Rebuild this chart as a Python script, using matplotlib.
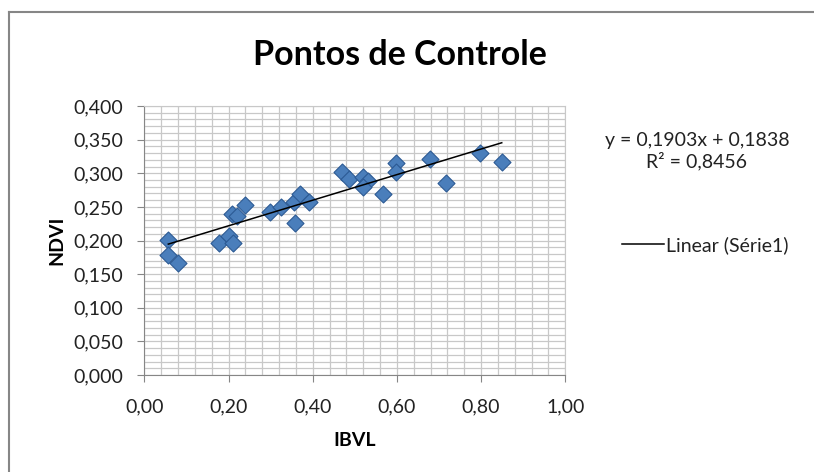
import matplotlib.pyplot as plt
from matplotlib.ticker import MultipleLocator, FuncFormatter
from matplotlib.lines import Line2D
import numpy as np

# Control points
ibvl = [0.057, 0.057, 0.079, 0.178, 0.200, 0.211, 0.208, 0.221, 0.240,
        0.299, 0.324, 0.356, 0.370, 0.390, 0.358, 0.469, 0.485, 0.519,
        0.532, 0.519, 0.568, 0.598, 0.598, 0.679, 0.717, 0.797, 0.849]
ndvi = [0.201, 0.178, 0.166, 0.197, 0.206, 0.197, 0.240, 0.236, 0.253,
        0.243, 0.250, 0.258, 0.269, 0.257, 0.226, 0.302, 0.291, 0.294,
        0.289, 0.279, 0.269, 0.315, 0.302, 0.321, 0.285, 0.330, 0.317]

# Trend line as reported in the chart
slope = 0.1903
intercept = 0.1838
r2 = 0.8456

plt.rcParams['font.family'] = ['Lato', 'DejaVu Sans']
FS = 14


def comma(fmt):
    return FuncFormatter(lambda v, p: format(v, fmt).replace('.', ','))


fig = plt.figure(figsize=(8.14, 4.72), dpi=100)
# chart area border (only left and top edges are inside the picture)
fig.lines.append(Line2D([9 / 814, 9 / 814], [0, 1 - 12 / 472],
                        transform=fig.transFigure, color='#868686', linewidth=1.5))
fig.lines.append(Line2D([9 / 814, 1.05], [1 - 12 / 472, 1 - 12 / 472],
                        transform=fig.transFigure, color='#868686', linewidth=1.5))

ax = fig.add_axes([0.1773, 0.2055, 0.5172, 0.5699])
ax.set_xlim(0, 1)
ax.set_ylim(0, 0.4)
ax.xaxis.set_major_locator(MultipleLocator(0.2))
ax.xaxis.set_minor_locator(MultipleLocator(0.04))
ax.yaxis.set_major_locator(MultipleLocator(0.05))
ax.yaxis.set_minor_locator(MultipleLocator(0.01))
ax.xaxis.set_major_formatter(comma('.2f'))
ax.yaxis.set_major_formatter(comma('.3f'))
ax.grid(True, which='both', color='#c8c8c8', linewidth=0.9)
ax.set_axisbelow(True)
ax.tick_params(which='major', length=5, color='#868686', labelsize=FS,
               labelcolor='#222222')
ax.tick_params(which='minor', length=0)
ax.tick_params(axis='x', pad=12)
ax.tick_params(axis='y', pad=10)
for s in ax.spines.values():
    s.set_color('#c8c8c8')
ax.spines['left'].set_color('#868686')
ax.spines['bottom'].set_color('#868686')

ax.scatter(ibvl, ndvi, marker='D', s=75, color='#4a7ebb',
           edgecolors='#2c5a94', linewidths=0.8, zorder=3)

xs = np.array([min(ibvl), max(ibvl)])
line, = ax.plot(xs, slope * xs + intercept, color='black', linewidth=1.1,
                zorder=4)

fig.text(400 / 814, 1 - 55 / 472, 'Pontos de Controle', ha='center',
         va='center', fontsize=24.5, fontweight='bold')
ax.set_xlabel('IBVL', fontsize=FS, fontweight='bold', labelpad=12)
ax.set_ylabel('NDVI', fontsize=FS, fontweight='bold', labelpad=6)

eq = 'y = {}x + {}\nR² = {}'.format(format(slope, '.4f').replace('.', ','),
                                      format(intercept, '.4f').replace('.', ','),
                                      format(r2, '.4f').replace('.', ','))
fig.text(697 / 814, 1 - 151 / 472, eq, ha='center', va='center',
         fontsize=FS, color='#222222', linespacing=1.15)

fig.legend([line], ['Linear (Série1)'], loc='center left',
           bbox_to_anchor=(604 / 814, 1 - 245 / 472), frameon=False,
           fontsize=FS, handlelength=2.2, handletextpad=0.1,
           labelcolor='#222222')

fig.savefig('out.png', dpi=100)
